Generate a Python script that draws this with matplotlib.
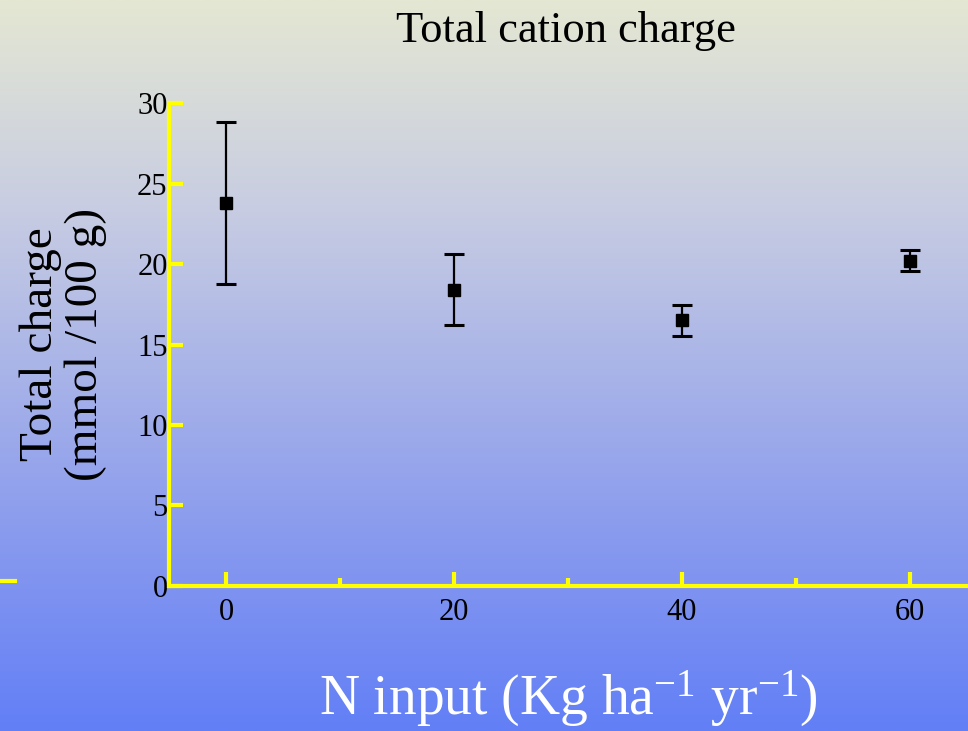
import numpy as np
import matplotlib.pyplot as plt
from matplotlib.colors import LinearSegmentedColormap
from matplotlib.lines import Line2D

n_input = [0, 20, 40, 60]
total_charge = [23.8, 18.4, 16.5, 20.2]
charge_err = [5.05, 2.2, 0.95, 0.65]

plt.rcParams['font.family'] = ['Liberation Serif', 'DejaVu Serif']
plt.rcParams['mathtext.fontset'] = 'custom'
plt.rcParams['mathtext.rm'] = 'Liberation Serif'
plt.rcParams['mathtext.default'] = 'regular'

fig = plt.figure(figsize=(9.68, 7.31), dpi=100)

# slide-style vertical gradient behind everything
bg = fig.add_axes([0, 0, 1, 1], zorder=-10)
grad_cmap = LinearSegmentedColormap.from_list(
    "slide", [(0.0, "#e4e7d2"), (0.28, "#c8cde2"), (0.55, "#a3afe9"),
              (0.8, "#7f93f0"), (1.0, "#627ff6")])
bg.imshow(np.linspace(0, 1, 256).reshape(-1, 1), aspect="auto",
          cmap=grad_cmap, extent=[0, 1, 0, 1], origin="upper")
bg.axis("off")

ax = fig.add_axes([0.1746, 0.1984, 0.8254, 0.6606])
ax.patch.set_alpha(0)

yellow = "#ffff00"
ax.errorbar(n_input, total_charge, yerr=charge_err, fmt="s", color="black",
            markersize=9, elinewidth=1.6, capsize=7, capthick=2.2)

ax.set_xlim(-5, 65.1)
ax.set_ylim(0, 30)
ax.set_xticks([0, 20, 40, 60])
ax.set_xticks([10, 30, 50], minor=True)
ax.set_yticks([0, 5, 10, 15, 20, 25, 30])

for side in ("top", "right"):
    ax.spines[side].set_visible(False)
for side in ("left", "bottom"):
    ax.spines[side].set_color(yellow)
    ax.spines[side].set_linewidth(3)

ax.tick_params(axis="both", which="both", direction="in", color=yellow,
               width=3, labelsize=22, labelcolor="black")
ax.tick_params(axis="x", which="major", length=10, pad=9)
ax.tick_params(axis="x", which="minor", length=6)
ax.tick_params(axis="y", which="major", length=10, pad=1)

ax.set_ylabel("Total charge\n(mmol /100 g)", fontsize=34, labelpad=22,
              linespacing=1.05)
ax.set_xlabel("N input (Kg ha$^{-1}$ yr$^{-1}$)", fontsize=40, color="white",
              labelpad=30)
fig.text(0.585, 0.958, "Total cation charge", fontsize=32, ha="center",
         va="center")

# stray yellow dash on the left edge
fig.add_artist(Line2D([0, 0.016], [0.205, 0.205], color=yellow, lw=3))

fig.savefig("out.png", dpi=100)
